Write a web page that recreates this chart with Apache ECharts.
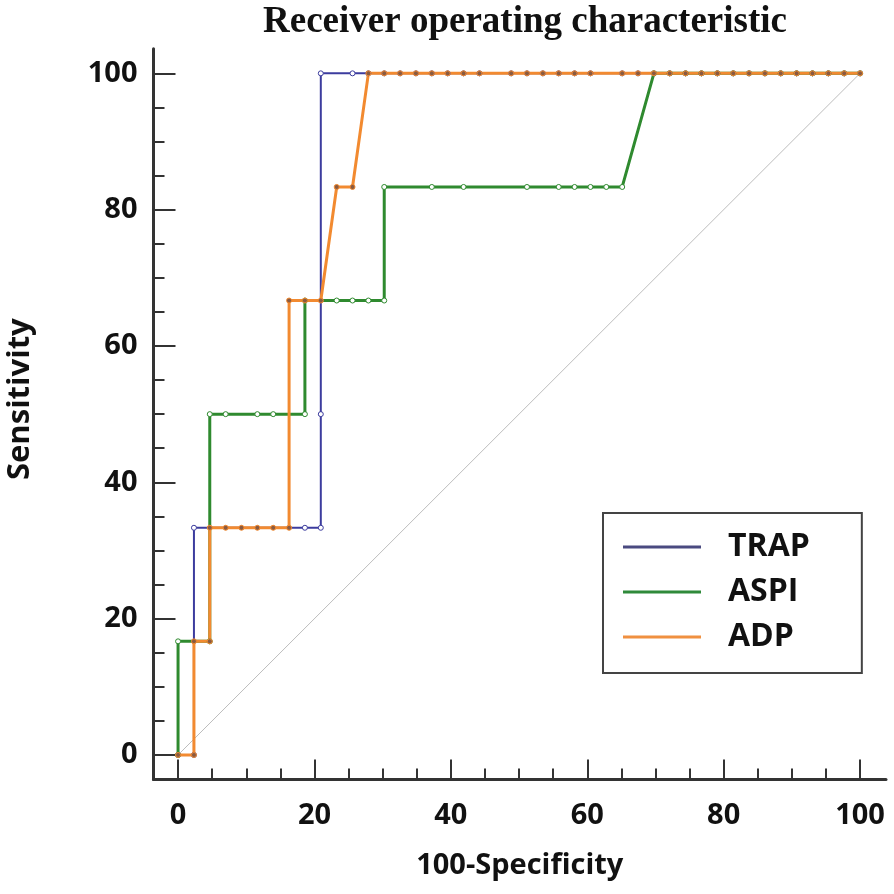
<!DOCTYPE html>
<html><head><meta charset="utf-8">
<script src="https://cdn.jsdelivr.net/npm/echarts@6/dist/echarts.min.js"></script>
<style>html,body{margin:0;padding:0;background:#fff}#c{width:894px;height:894px}</style>
</head><body><div id="c"></div>
<script>
const titleText = 'Receiver operating characteristic';
const xName = '100-Specificity';
const yName = 'Sensitivity';
const seriesNames = ['TRAP', 'ASPI', 'ADP'];
const majorTicks = [0, 20, 40, 60, 80, 100];
const minorTicks = [5, 10, 15, 25, 30, 35, 45, 50, 55, 65, 70, 75, 85, 90, 95];

const trapX = [0, 2.33, 2.33, 18.60, 20.93, 20.93, 20.93, 25.58, 27.91, 30.23, 32.56, 34.88, 37.21, 39.53, 41.86, 44.19, 48.84, 51.16, 53.49, 55.81, 58.14, 60.47, 65.12, 67.44, 69.77, 72.09, 74.42, 76.74, 79.07, 81.40, 83.72, 86.05, 88.37, 90.70, 93.02, 95.35, 97.67, 100];
const trapY = [0, 0, 33.33, 33.33, 33.33, 50, 100, 100, 100, 100, 100, 100, 100, 100, 100, 100, 100, 100, 100, 100, 100, 100, 100, 100, 100, 100, 100, 100, 100, 100, 100, 100, 100, 100, 100, 100, 100, 100];

const aspiX = [0, 0, 4.65, 4.65, 6.98, 11.63, 13.95, 18.60, 18.60, 23.26, 25.58, 27.91, 30.23, 30.23, 37.21, 41.86, 51.16, 55.81, 58.14, 60.47, 62.79, 65.12, 69.77, 72.09, 74.42, 76.74, 79.07, 81.40, 83.72, 86.05, 88.37, 90.70, 93.02, 95.35, 97.67, 100];
const aspiY = [0, 16.67, 16.67, 50, 50, 50, 50, 50, 66.67, 66.67, 66.67, 66.67, 66.67, 83.33, 83.33, 83.33, 83.33, 83.33, 83.33, 83.33, 83.33, 83.33, 100, 100, 100, 100, 100, 100, 100, 100, 100, 100, 100, 100, 100, 100];

const adpX = [0, 2.33, 2.33, 4.65, 4.65, 6.98, 9.30, 11.63, 13.95, 16.28, 16.28, 18.60, 20.93, 23.26, 25.58, 27.91, 30.23, 32.56, 34.88, 37.21, 39.53, 41.86, 44.19, 48.84, 51.16, 53.49, 55.81, 58.14, 60.47, 65.12, 67.44, 69.77, 72.09, 74.42, 76.74, 79.07, 81.40, 83.72, 86.05, 88.37, 90.70, 93.02, 95.35, 97.67, 100];
const adpY = [0, 0, 16.67, 16.67, 33.33, 33.33, 33.33, 33.33, 33.33, 33.33, 66.67, 66.67, 66.67, 83.33, 83.33, 100, 100, 100, 100, 100, 100, 100, 100, 100, 100, 100, 100, 100, 100, 100, 100, 100, 100, 100, 100, 100, 100, 100, 100, 100, 100, 100, 100, 100, 100];

const refX = [0, 100];
const refY = [0, 100];

const colors = { TRAP: '#3c3c9e', ASPI: '#2f8a2f', ADP: '#f28a30' };
const legendColors = { TRAP: '#4a4a80', ASPI: '#2f8a3a', ADP: '#f09040' };

const zip = (xs, ys) => xs.map((x, i) => [x, ys[i]]);

const FONT = 'Open Sans';
const AX = '#333333';
const xMin = -3.6, xMax = 103.8, yMin = -3.6, yMax = 103.6;

function majorAxis(isX) {
  return {
    type: 'value',
    min: isX ? xMin : yMin,
    max: isX ? xMax : yMax,
    position: isX ? 'bottom' : 'left',
    name: isX ? xName : yName,
    nameLocation: 'middle',
    nameGap: isX ? 72 : 118,
    nameRotate: isX ? 0 : 90,
    nameTextStyle: { fontFamily: FONT, fontWeight: 'bold', fontSize: isX ? 29 : 31, color: '#111', padding: isX ? 0 : [0, 0, 0, 30] },
    axisLine: { show: true, onZero: false, lineStyle: { color: AX, width: 3 } },
    axisTick: { show: true, inside: true, length: isX ? 20 : 22, customValues: majorTicks, lineStyle: { color: AX, width: 2 } },
    axisLabel: { show: true, customValues: majorTicks, margin: isX ? 22 : 16, fontFamily: FONT, fontWeight: 'bold', fontSize: 29, color: '#111' },
    splitLine: { show: false }
  };
}
function minorAxis(isX) {
  return {
    type: 'value',
    min: isX ? xMin : yMin,
    max: isX ? xMax : yMax,
    position: isX ? 'bottom' : 'left',
    axisLine: { show: false, onZero: false },
    axisTick: { show: true, inside: true, length: 11, customValues: minorTicks, lineStyle: { color: AX, width: 2 } },
    axisLabel: { show: false, customValues: minorTicks },
    splitLine: { show: false }
  };
}

function curve(name, xs, ys, width, markerFill) {
  return {
    name: name,
    type: 'line',
    data: zip(xs, ys),
    xAxisIndex: 0, yAxisIndex: 0,
    symbol: 'circle',
    symbolSize: 5,
    showSymbol: true,
    animation: false,
    lineStyle: { color: colors[name], width: width },
    itemStyle: { color: markerFill, borderColor: colors[name], borderWidth: 1 },
    emphasis: { disabled: true }
  };
}

const chart = echarts.init(document.getElementById('c'), null, { renderer: 'canvas' });
chart.setOption({
  backgroundColor: '#ffffff',
  animation: false,
  title: {
    text: titleText,
    left: 520,
    textAlign: 'center',
    top: -1,
    textStyle: { fontFamily: 'Liberation Serif', fontWeight: 'bold', fontSize: 37, color: '#111' }
  },
  grid: { left: 153.5, right: 8, top: 48.8, bottom: 114.5, containLabel: false, outerBoundsMode: 'none' },
  xAxis: [majorAxis(true), minorAxis(true)],
  yAxis: [majorAxis(false), minorAxis(false)],
  legend: {
    orient: 'vertical',
    left: 603,
    top: 513,
    itemWidth: 78,
    itemHeight: 3,
    itemGap: 13,
    padding: [18, 52, 20, 20],
    borderColor: '#444',
    borderWidth: 2,
    icon: 'rect',
    selectedMode: false,
    textStyle: { fontFamily: FONT, fontWeight: 'bold', fontSize: 32, color: '#111', lineHeight: 32, padding: [0, 0, 0, 22] },
    data: seriesNames.map(n => ({ name: n, itemStyle: { color: legendColors[n], borderWidth: 0 } }))
  },
  series: [
    {
      name: 'ref', type: 'line', data: zip(refX, refY), showSymbol: false, symbol: 'none',
      lineStyle: { color: '#bdbdbd', width: 1 }, silent: true, animation: false
    },
    curve('TRAP', trapX, trapY, 2, '#ffffff'),
    curve('ASPI', aspiX, aspiY, 3, '#ffffff'),
    curve('ADP', adpX, adpY, 3, '#8a5a40')
  ]
});
</script>
</body></html>
